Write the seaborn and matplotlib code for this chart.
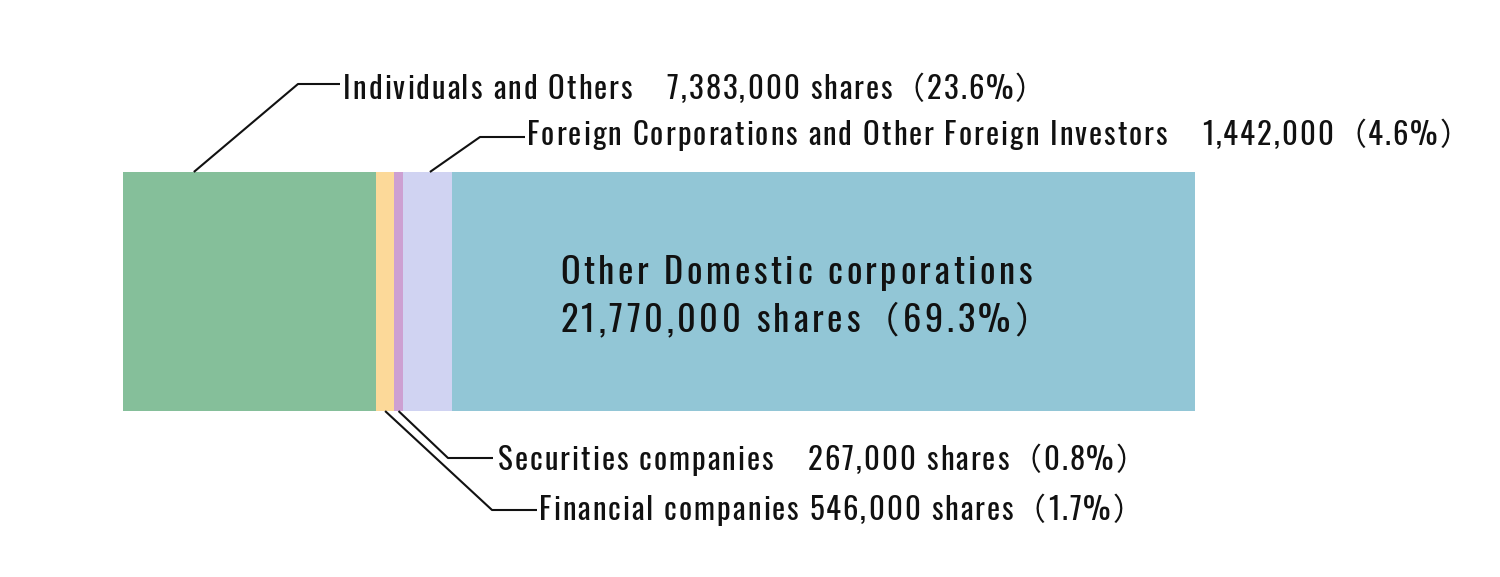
import matplotlib
matplotlib.use("Agg")
import matplotlib.pyplot as plt
from matplotlib import font_manager
from matplotlib.font_manager import FontProperties
from matplotlib.textpath import TextPath
import seaborn as sns
import pandas as pd

# data
categories = ["Individuals and Others", "Financial companies", "Securities companies",
              "Foreign Corporations and Other Foreign Investors", "Other Domestic corporations"]
shares = [7383000, 546000, 267000, 1442000, 21770000]
percents = [23.6, 1.7, 0.8, 4.6, 69.3]
colors = ["#85bf9a", "#fcd999", "#cda0d2", "#d0d3f2", "#92c6d6"]

sns.set_theme(style="white")
FAMILY = ["Oswald", "Noto Sans CJK JP", "DejaVu Sans"]
plt.rcParams["font.family"] = FAMILY

W, H = 1500, 577
DPI = 100
fig = plt.figure(figsize=(W / DPI, H / DPI), dpi=DPI)
ax = fig.add_axes([0, 0, 1, 1])

# stacked bar: draw cumulative totals, widest first
df = pd.DataFrame({"cat": categories, "pct": percents})
df["cum"] = df["pct"].cumsum()
df["left"] = df["cum"] - df["pct"]
for i in range(len(df) - 1, -1, -1):
    sns.barplot(x=[df["cum"].iloc[i]], y=[0], orient="h", color=colors[i],
                width=1.0, saturation=1, ax=ax, edgecolor="none", linewidth=0)

# pixel layout -> data coords
X0, X1 = 123, 1195
pxp = (X1 - X0) / 100.0
ytop, ybot = 172, 411
pyu = ybot - ytop
yc = (ytop + ybot) / 2
ax.set_xlim(-X0 / pxp, (W - X0) / pxp)
ax.set_ylim((H - yc) / pyu, -yc / pyu)
ax.axis("off")


def px(x, y):
    return (x - X0) / pxp, (y - yc) / pyu


def fmt(n):
    return f"{n:,}"


# font sizes from cap heights measured on the reference (px)
cap = TextPath((0, 0), "H", size=100, prop=FontProperties(family="Oswald")).get_extents().height / 100
SIZE = 25 / cap * 72 / DPI
SIZE_BIG = 29.5 / cap * 72 / DPI

main_font = font_manager.get_font(font_manager.findfont(FontProperties(family="Oswald")))
cjk_font = font_manager.get_font(font_manager.findfont(FontProperties(family="Noto Sans CJK JP")))


def advance(ch, size):
    f = main_font if main_font.get_char_index(ord(ch)) else cjk_font
    f.set_size(size, DPI)
    return f.load_char(ord(ch)).linearHoriAdvance / 65536


def tracking_for(s, width, size):
    natural = sum(advance(c, size) for c in s)
    return (width - natural) / (len(s) - 1)


def tracked_text(x, y, s, size, track):
    # letter-spaced text, one glyph at a time, baseline at pixel y
    for ch in s:
        adv = advance(ch, size)
        if not ch.isspace():
            ax.text(*px(x, y), ch, fontsize=size, va="baseline", ha="left", color="#111111")
        x += adv + track


TRACK = tracking_for("Individuals and Others", 289, SIZE)
TRACK_BIG = tracking_for("Other Domestic corporations", 472, SIZE_BIG)


def leader(i, frac, edge_y, pts, tx, ty, text):
    x0 = df["left"].iloc[i] + df["pct"].iloc[i] * frac
    xs = [x0] + [px(a, b)[0] for a, b in pts]
    ys = [px(0, edge_y)[1]] + [px(a, b)[1] for a, b in pts]
    ax.plot(xs, ys, color="#111111", lw=1.5, solid_capstyle="butt")
    tracked_text(tx, ty, text, SIZE, TRACK)


leader(0, 0.28, ytop, [(298, 84), (340, 84)], 343, 99,
       f"{categories[0]}　{fmt(shares[0])} shares（{percents[0]}%）")
leader(3, 0.55, ytop, [(480, 137), (525, 137)], 527, 145,
       f"{categories[3]}　{fmt(shares[3])}（{percents[3]}%）")
leader(2, 0.5, ybot, [(448, 458), (493, 458)], 498, 470,
       f"{categories[2]}　{fmt(shares[2])} shares（{percents[2]}%）")
leader(1, 0.5, ybot, [(492, 510), (537, 510)], 539, 520,
       f"{categories[1]} {fmt(shares[1])} shares（{percents[1]}%）")

tracked_text(560, 284, categories[4], SIZE_BIG, TRACK_BIG)
tracked_text(560, 332, f"{fmt(shares[4])} shares（{percents[4]}%）", SIZE_BIG, TRACK_BIG)

fig.savefig("out.png", dpi=DPI, facecolor="white")
